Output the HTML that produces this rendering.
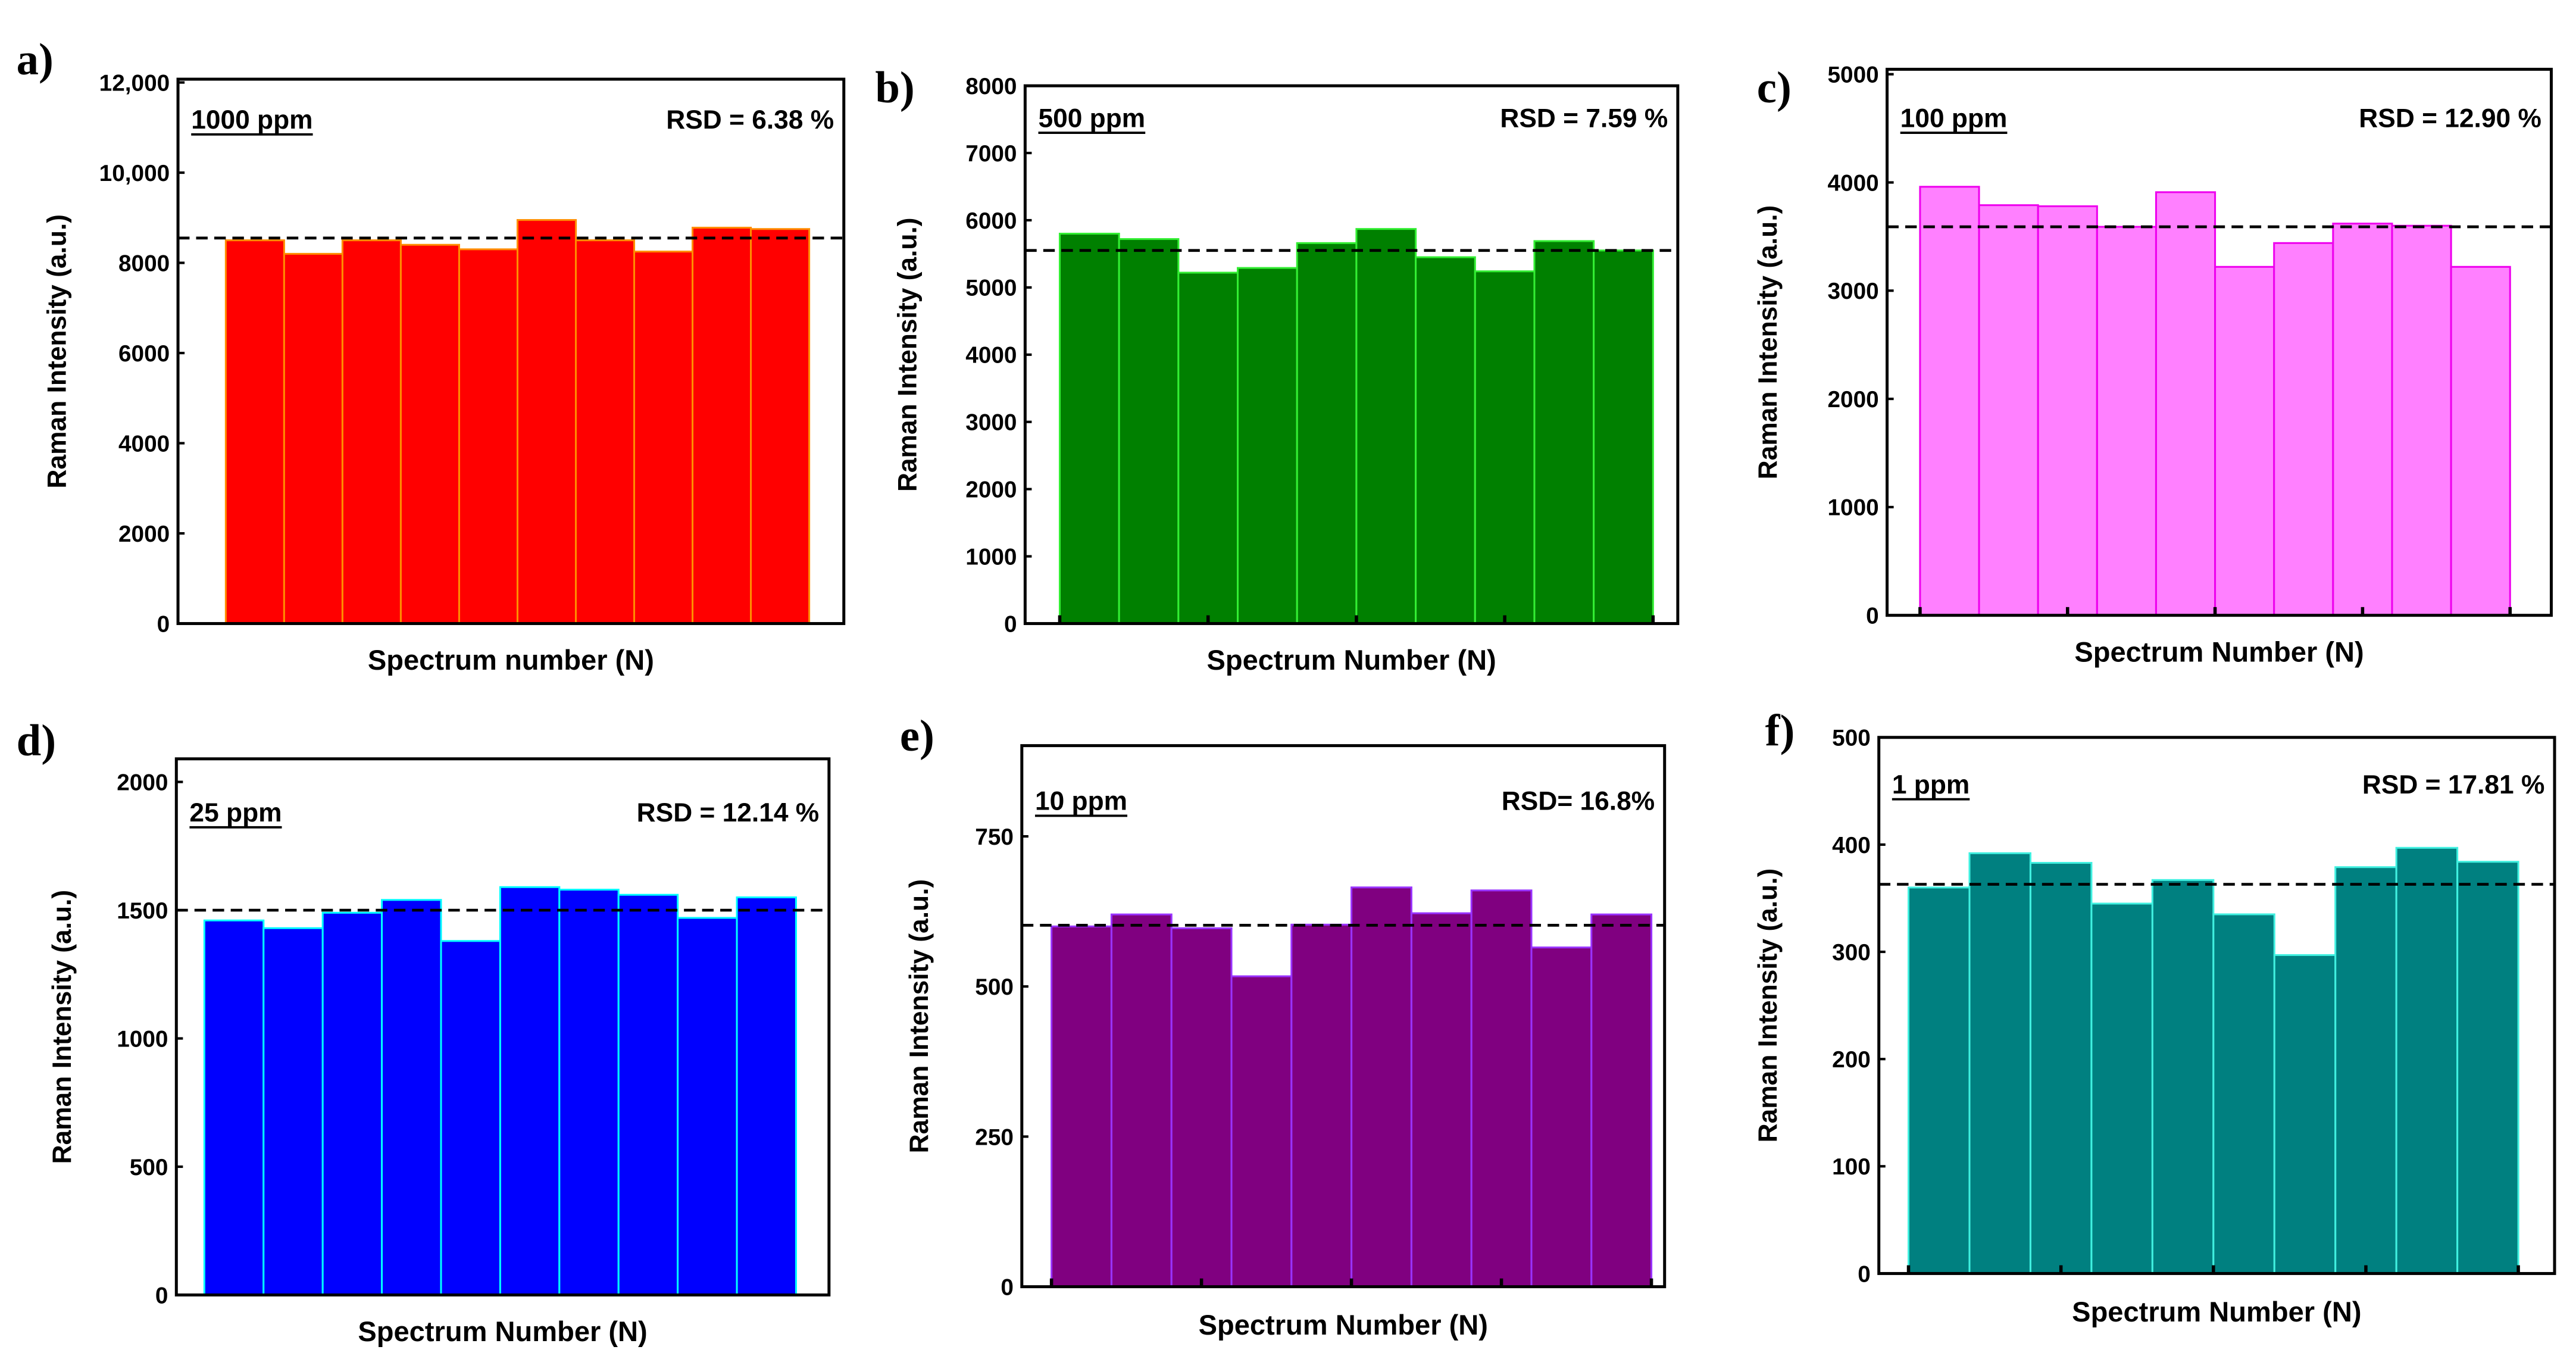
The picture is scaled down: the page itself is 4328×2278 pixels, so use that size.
<!DOCTYPE html>
<html><head><meta charset="utf-8">
<style>
html,body{margin:0;padding:0;background:#fff;}
svg{display:block;}
text{font-family:"Liberation Sans",Arial,sans-serif;font-weight:bold;fill:#000;}
.pl{font-family:"Liberation Serif","Times New Roman",serif;font-size:27px;}
</style></head>
<body>
<svg id="fig" width="4328" height="2278" viewBox="0 0 1563 822" preserveAspectRatio="none" xmlns="http://www.w3.org/2000/svg"></svg>
<script>
// ---- data ----
const valsA = [8500, 8200, 8500, 8400, 8300, 8950, 8500, 8250, 8780, 8750];
const meanA = 8550;
const ticksA = [0, 2000, 4000, 6000, 8000, 10000, 12000];
const tickLabelsA = ["0", "2000", "4000", "6000", "8000", "10,000", "12,000"];

const valsB = [5800, 5720, 5220, 5290, 5660, 5870, 5450, 5240, 5690, 5550];
const meanB = 5550;
const ticksB = [0, 1000, 2000, 3000, 4000, 5000, 6000, 7000, 8000];

const valsC = [3960, 3790, 3780, 3590, 3910, 3220, 3440, 3620, 3600, 3220];
const meanC = 3590;
const ticksC = [0, 1000, 2000, 3000, 4000, 5000];

const valsD = [1460, 1430, 1490, 1540, 1380, 1590, 1580, 1560, 1470, 1550];
const meanD = 1500;
const ticksD = [0, 500, 1000, 1500, 2000];

const valsE = [600, 620, 597, 517, 603, 665, 622, 660, 565, 620];
const meanE = 602;
const ticksE = [0, 250, 500, 750];

const valsF = [360, 392, 383, 345, 367, 335, 297, 379, 397, 384];
const meanF = 363;
const ticksF = [0, 100, 200, 300, 400, 500];

const panels = [
 {id:"a",vals:valsA,mean:meanA,ticks:ticksA,tl:tickLabelsA,ymax:12000,box:[108,48,512,378],y0:378,ytop:50,bars:[137,491],fill:"#ff0000",edge:"#ff8c00",xt:false,conc:"1000 ppm",rsd:"RSD = 6.38 %",lab:[10,45],ytx:40,xtitle:"Spectrum number (N)",xty:406,tly:78},
 {id:"b",vals:valsB,mean:meanB,ticks:ticksB,ymax:8000,box:[622,52,1018,378],y0:378,ytop:52,bars:[643,1003],fill:"#008000",edge:"#33ee33",xt:true,conc:"500 ppm",rsd:"RSD = 7.59 %",lab:[531,62],ytx:556,xtitle:"Spectrum Number (N)",xty:406,tly:77},
 {id:"c",vals:valsC,mean:meanC,ticks:ticksC,ymax:5000,box:[1145,42,1548,373],y0:373,ytop:45,bars:[1165,1523],fill:"#ff80ff",edge:"#ee00ee",xt:true,conc:"100 ppm",rsd:"RSD = 12.90 %",lab:[1066,62],ytx:1078,xtitle:"Spectrum Number (N)",xty:401,tly:77},
 {id:"d",vals:valsD,mean:meanD,ticks:ticksD,ymax:2000,box:[107,460,503,785],y0:785,ytop:474,bars:[124,483],fill:"#0000ff",edge:"#00ffff",xt:false,conc:"25 ppm",rsd:"RSD = 12.14 %",lab:[10,458],ytx:43,xtitle:"Spectrum Number (N)",xty:813,tly:498},
 {id:"e",vals:valsE,mean:meanE,ticks:ticksE,ymax:750,box:[620,452,1010,780],y0:780,ytop:507,bars:[638,1002],fill:"#800080",edge:"#9933ff",xt:true,conc:"10 ppm",rsd:"RSD= 16.8%",lab:[546,455],ytx:563,xtitle:"Spectrum Number (N)",xty:809,tly:491},
 {id:"f",vals:valsF,mean:meanF,ticks:ticksF,ymax:500,box:[1140,447,1550,772],y0:772,ytop:447,bars:[1158,1528],fill:"#008080",edge:"#40f0e0",xt:true,conc:"1 ppm",rsd:"RSD = 17.81 %",lab:[1071,452],ytx:1078,xtitle:"Spectrum Number (N)",xty:801,tly:481}
];

const NS = "http://www.w3.org/2000/svg";
const svg = document.getElementById("fig");
function mk(tag, attrs, parent){
  const e = document.createElementNS(NS, tag);
  for (const k in attrs) e.setAttribute(k, attrs[k]);
  parent.appendChild(e);
  return e;
}

panels.forEach(p => {
  const g = mk("g", {}, svg);
  
  
  const [bx0, by0, bx1, by1] = p.box;
  const yScale = v => p.y0 - v / p.ymax * (p.y0 - p.ytop);
  const n = p.vals.length;
  const bw = (p.bars[1] - p.bars[0]) / n;
  const xScale = i => p.bars[0] + i * bw;

  p.vals.forEach((v, i) => {
    const r = mk("rect", {x: xScale(i), y: yScale(v), width: bw, height: p.y0 - yScale(v), fill: p.fill, stroke: p.edge, "stroke-width": 1.1}, g);
    
    
  });

  const ml = mk("line", {x1: bx0, x2: bx1, y1: yScale(p.mean), y2: yScale(p.mean), stroke: "#000", "stroke-width": 1.7, "stroke-dasharray": "7,4"}, g);
  
  

  const fr = mk("rect", {x: bx0, y: by0, width: bx1 - bx0, height: by1 - by0, fill: "none", stroke: "#000", "stroke-width": 1.8}, g);
  
  

  p.ticks.forEach((t, i) => {
    const y = yScale(t);
    mk("line", {x1: bx0, x2: bx0 + 4, y1: y, y2: y, stroke: "#000", "stroke-width": 1.5}, g);
    const lbl = p.tl ? p.tl[i] : String(t);
    const tx = mk("text", {x: bx0 - 5, y: y + 5, "text-anchor": "end", "font-size": 14}, g);
    tx.textContent = lbl;
    
    
  });

  if (p.xt) {
    [0, 2.5, 5, 7.5, 10].forEach(k => {
      const x = xScale(k);
      mk("line", {x1: x, x2: x, y1: p.y0, y2: p.y0 - 5, stroke: "#000", "stroke-width": 2}, g);
    });
  }

  const pl = mk("text", {x: p.lab[0], y: p.lab[1], class: "pl"}, g);
  pl.textContent = p.id + ")";
  
  

  const c = mk("text", {x: bx0 + 8, y: p.tly, "font-size": 16}, g);
  c.textContent = p.conc;
  
  
  const cw = c.getComputedTextLength ? c.getComputedTextLength() : p.conc.length * 8.5;
  mk("line", {x1: bx0 + 8, x2: bx0 + 8 + cw, y1: p.tly + 3.5, y2: p.tly + 3.5, stroke: "#000", "stroke-width": 1.4}, g);

  const rs = mk("text", {x: bx1 - 6, y: p.tly, "font-size": 16, "text-anchor": "end"}, g);
  rs.textContent = p.rsd;
  
  

  const cy = (by0 + by1) / 2;
  const yt = mk("text", {x: p.ytx, y: cy, "font-size": 16, "text-anchor": "middle", transform: "rotate(-90 " + p.ytx + " " + cy + ")"}, g);
  yt.textContent = "Raman Intensity (a.u.)";
  
  

  const xt = mk("text", {x: (bx0 + bx1) / 2, y: p.xty, "font-size": 17, "text-anchor": "middle"}, g);
  xt.textContent = p.xtitle;
  
  
});
</script>
</body></html>
